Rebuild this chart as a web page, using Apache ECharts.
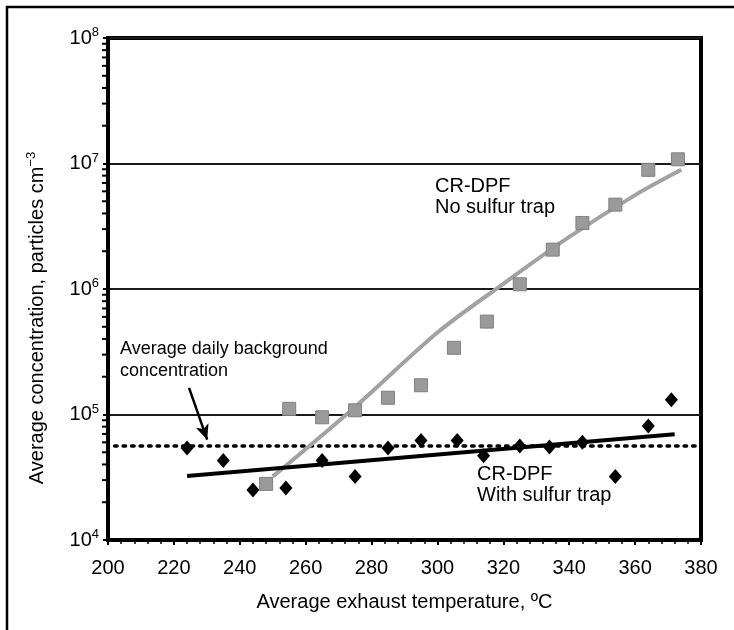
<!DOCTYPE html>
<html lang="en">
<head>
    <meta charset="UTF-8">
    <title>CR-DPF particle concentration</title>
    <script src="https://cdn.jsdelivr.net/npm/echarts@6/dist/echarts.min.js"></script>
    <style>
        html, body { margin: 0; padding: 0; background: #fff; }
    </style>
</head>
<body>
<div id="chart" style="width: 734px;height: 630px"></div>
<script type="text/javascript">
    // no sulfur trap (gray squares)
    var noTrapTemp = [248, 255, 265, 275, 285, 295, 305, 315, 325, 335, 344, 354, 364, 373];
    var noTrapConc = [2.8e4, 1.11e5, 9.5e4, 1.08e5, 1.36e5, 1.71e5, 3.4e5, 5.5e5, 1.09e6, 2.06e6, 3.36e6, 4.7e6, 8.9e6, 1.08e7];
    // fitted curve through the squares
    var noTrapFitTemp = [250, 275, 300, 320, 340, 360, 374];
    var noTrapFitConc = [3.2e4, 1.15e5, 4.5e5, 1.1e6, 2.6e6, 5.6e6, 8.9e6];

    // with sulfur trap (black diamonds)
    var trapTemp = [224, 235, 244, 254, 265, 275, 285, 295, 306, 314, 325, 334, 344, 354, 364, 371];
    var trapConc = [5.4e4, 4.3e4, 2.5e4, 2.6e4, 4.3e4, 3.2e4, 5.4e4, 6.2e4, 6.2e4, 4.7e4, 5.6e4, 5.5e4, 6.0e4, 3.2e4, 8.1e4, 1.31e5];
    var trapFitTemp = [224, 372];
    var trapFitConc = [3.24e4, 6.97e4];

    // average daily background
    var bgTemp = [202, 380];
    var bgConc = [5.6e4, 5.6e4];
    var arrowFrom = [224.6, 1.63e5];
    var arrowTo = [230.1, 6.3e4];

    // log minor ticks on the y axis
    var yMinorTicks = [2e4, 3e4, 4e4, 5e4, 6e4, 7e4, 8e4, 9e4,
        2e5, 3e5, 4e5, 5e5, 6e5, 7e5, 8e5, 9e5,
        2e6, 3e6, 4e6, 5e6, 6e6, 7e6, 8e6, 9e6,
        2e7, 3e7, 4e7, 5e7, 6e7, 7e7, 8e7, 9e7];

    function pairs(xs, ys) {
        var out = [];
        for (var i = 0; i < xs.length; i++) out.push([xs[i], ys[i]]);
        return out;
    }

    var font = 'Liberation Sans, Arial, sans-serif';
    var myChart = echarts.init(document.getElementById('chart'));
    var option = {
        animation: false,
        grid: {
            left: 108, right: 33, top: 38, bottom: 90,
            show: true, borderColor: '#000', borderWidth: 4
        },
        xAxis: {
            type: 'value',
            min: 200, max: 380, interval: 20,
            name: 'Average exhaust temperature, ºC',
            nameLocation: 'middle',
            nameGap: 52,
            nameTextStyle: {color: '#000', fontSize: 20, fontFamily: font},
            axisLine: {show: true, onZero: false, lineStyle: {color: '#000', width: 4}},
            axisTick: {show: true, length: 5, lineStyle: {color: '#000', width: 2}},
            minorTick: {show: true, splitNumber: 5, length: 4, lineStyle: {color: '#000', width: 1.5}},
            axisLabel: {color: '#000', fontSize: 20, fontFamily: font, margin: 18},
            splitLine: {show: false}
        },
        yAxis: {
            type: 'log',
            logBase: 10,
            min: 1e4, max: 1e8,
            axisLine: {show: true, lineStyle: {color: '#000', width: 4}},
            axisTick: {show: true, length: 5, lineStyle: {color: '#000', width: 2}},
            axisLabel: {
                margin: 9,
                formatter: function (v) {
                    return '{b|10}{s|' + Math.round(Math.log10(v)) + '}';
                },
                rich: {
                    b: {fontSize: 20, fontFamily: font, color: '#000', lineHeight: 24},
                    s: {fontSize: 13, fontFamily: font, color: '#000', verticalAlign: 'top', lineHeight: 14}
                }
            },
            splitLine: {show: true, lineStyle: {color: '#1a1a1a', width: 2}}
        },
        graphic: [
            {
                type: 'polyline',
                shape: {points: [[7, 632], [7, 7], [734, 7]]},
                style: {stroke: '#000', lineWidth: 2.5, fill: null}
            },
            {
                type: 'text', x: 37, y: 318, rotation: Math.PI / 2,
                style: {
                    text: '{t|Average concentration, particles cm}{s|−3}',
                    align: 'center', verticalAlign: 'middle',
                    rich: {
                        t: {fontSize: 20, fontFamily: font, fill: '#000', lineHeight: 24},
                        s: {fontSize: 13, fontFamily: font, fill: '#000', verticalAlign: 'top', lineHeight: 14}
                    }
                }
            },
            {
                type: 'text', left: 435, top: 176,
                style: {text: 'CR-DPF\nNo sulfur trap', fontSize: 20, lineHeight: 21, fontFamily: font, fill: '#000'}
            },
            {
                type: 'text', left: 477, top: 464,
                style: {text: 'CR-DPF\nWith sulfur trap', fontSize: 20, lineHeight: 21, fontFamily: font, fill: '#000'}
            },
            {
                type: 'text', left: 120, top: 338,
                style: {text: 'Average daily background\nconcentration', fontSize: 18, lineHeight: 22, fontFamily: font, fill: '#000'}
            }
        ],
        series: [
            {
                name: 'minor ticks',
                type: 'scatter',
                data: yMinorTicks.map(function (v) { return [200, v]; }),
                symbol: 'rect',
                symbolSize: [4, 2],
                symbolOffset: [-4, 0],
                itemStyle: {color: '#000', opacity: 1},
                clip: false,
                silent: true,
                z: 5
            },
            {
                name: 'background',
                type: 'line',
                data: pairs(bgTemp, bgConc),
                symbol: 'none',
                lineStyle: {color: '#000', width: 3.5, type: [2.5, 6], cap: 'round'},
                markLine: {
                    silent: true,
                    symbol: ['none', 'arrow'],
                    symbolSize: [10, 15],
                    label: {show: false},
                    lineStyle: {color: '#000', width: 2.5, type: 'solid'},
                    data: [[{coord: arrowFrom}, {coord: arrowTo}]]
                },
                z: 2
            },
            {
                name: 'no trap fit',
                type: 'line',
                data: pairs(noTrapFitTemp, noTrapFitConc),
                smooth: 0.3,
                symbol: 'none',
                lineStyle: {color: '#a2a2a2', width: 4},
                z: 3
            },
            {
                name: 'trap fit',
                type: 'line',
                data: pairs(trapFitTemp, trapFitConc),
                symbol: 'none',
                lineStyle: {color: '#000', width: 4},
                z: 3
            },
            {
                name: 'no sulfur trap',
                type: 'scatter',
                data: pairs(noTrapTemp, noTrapConc),
                symbol: 'rect',
                symbolSize: 13,
                itemStyle: {color: '#9a9a9a', borderColor: '#808080', borderWidth: 1, opacity: 1},
                z: 4
            },
            {
                name: 'with sulfur trap',
                type: 'scatter',
                data: pairs(trapTemp, trapConc),
                symbol: 'diamond',
                symbolSize: [13, 15],
                itemStyle: {color: '#000', opacity: 1},
                z: 4
            }
        ]
    };
    myChart.setOption(option);
</script>
</body>
</html>
